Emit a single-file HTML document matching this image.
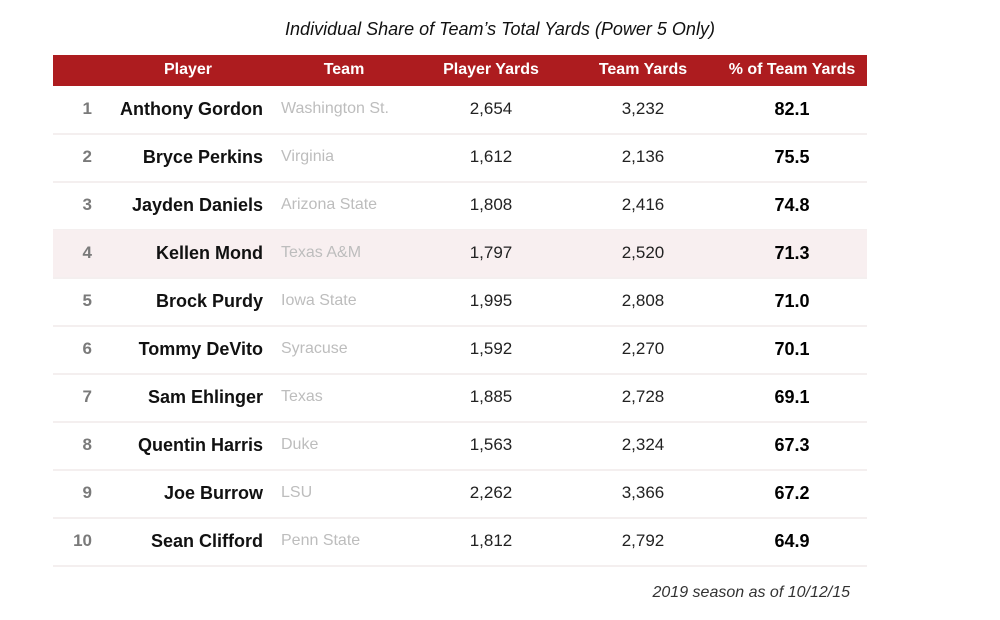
<!DOCTYPE html>
<html><head><meta charset="utf-8"><style>
body{margin:0;width:1000px;height:620px;background:#fff;font-family:"Liberation Sans",sans-serif;position:relative;overflow:hidden}
.t{position:absolute;white-space:nowrap}
#title{left:0;width:1000px;top:19px;text-align:center;font-style:italic;font-size:18px;color:#111}
#hdr{position:absolute;left:53px;top:55px;width:814px;height:31px;background:#ad1c1f}
.h{position:absolute;top:61px;color:#fff;font-size:16px;font-weight:bold;text-align:center;white-space:nowrap}
.row{position:absolute;left:53px;width:814px;height:47px;border-bottom:2px solid #f4efef}
.rk{position:absolute;width:30px;left:62px;text-align:right;font-size:17px;font-weight:bold;color:#7a7a7a}
.pl{position:absolute;right:737px;font-size:18px;font-weight:bold;color:#111;text-align:right;white-space:nowrap}
.tm{position:absolute;left:281px;font-size:16px;color:#bdbdbd;white-space:nowrap}
.py,.ty,.pc{position:absolute;width:120px;text-align:center;font-size:17px;color:#222}
.py{left:431px}.ty{left:583px}.pc{left:732px;font-weight:bold;color:#000;font-size:18px}
#note{right:150px;top:584px;font-style:italic;font-size:16px;color:#333}
</style></head><body>
<div class="t" id="title">Individual Share of Team’s Total Yards (Power 5 Only)</div>
<div id="hdr"></div>
<div class="h" style="left:128px;width:120px">Player</div>
<div class="h" style="left:284px;width:120px">Team</div>
<div class="h" style="left:431px;width:120px">Player Yards</div>
<div class="h" style="left:583px;width:120px">Team Yards</div>
<div class="h" style="left:712px;width:160px">% of Team Yards</div>
<div id="rows"></div>
<div class="t" id="note">2019 season as of 10/12/15</div>
<script>
const players=["Anthony Gordon","Bryce Perkins","Jayden Daniels","Kellen Mond","Brock Purdy","Tommy DeVito","Sam Ehlinger","Quentin Harris","Joe Burrow","Sean Clifford"];
const teams=["Washington St.","Virginia","Arizona State","Texas A&M","Iowa State","Syracuse","Texas","Duke","LSU","Penn State"];
const playerYards=["2,654","1,612","1,808","1,797","1,995","1,592","1,885","1,563","2,262","1,812"];
const teamYards=["3,232","2,136","2,416","2,520","2,808","2,270","2,728","2,324","3,366","2,792"];
const pcts=["82.1","75.5","74.8","71.3","71.0","70.1","69.1","67.3","67.2","64.9"];
const R=document.getElementById('rows');
players.forEach((p,i)=>{
  const top=86+48*i, ty=top+13;
  const row=document.createElement('div');row.className='row';row.style.top=top+'px';
  if(i===3)row.style.background='#f8eff0';
  
  
  R.appendChild(row);
  const cells=[['rk',String(i+1),'rank'],['pl',p,'player-name'],['tm',teams[i],'team-name'],['py',playerYards[i],'player-yards'],['ty',teamYards[i],'team-yards'],['pc',pcts[i],'pct-team-yards']];
  cells.forEach(c=>{
    const d=document.createElement('div');d.className=c[0];d.textContent=c[1];
    d.style.top=(ty+(c[0]==='tm'?1:0))+'px';
    
    
    R.appendChild(d);
  });
});
</script>
</body></html>
